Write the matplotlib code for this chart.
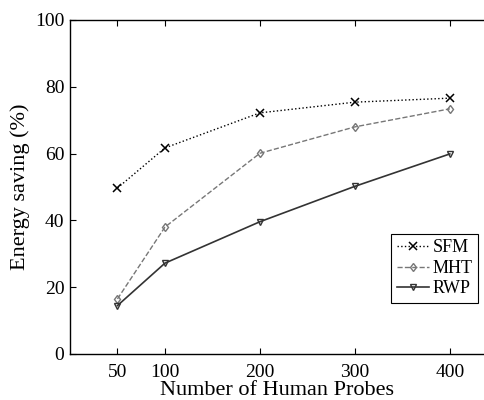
import matplotlib.pyplot as plt

plt.rcParams['font.family'] = ['Liberation Serif', 'DejaVu Serif']

# data
probes = [50, 100, 200, 300, 400]
sfm = [49.7, 61.7, 72.2, 75.4, 76.6]
mht = [16.5, 38.0, 60.1, 68.0, 73.4]
rwp = [14.5, 27.2, 39.6, 50.2, 59.9]

fig = plt.figure(figsize=(4.84, 4.0), dpi=100)
ax = fig.add_axes([70 / 484, 46 / 400, 414 / 484, 334 / 400])

ax.plot(probes, sfm, color='black', linestyle=':', linewidth=1.0,
        marker='x', markersize=6, markeredgewidth=1.1, label='SFM')
ax.plot(probes, mht, color='#777777', linestyle='--', linewidth=1.0,
        marker='d', markersize=4.5, markerfacecolor='none',
        markeredgecolor='#777777', label='MHT')
ax.plot(probes, rwp, color='#333333', linestyle='-', linewidth=1.2,
        marker='v', markersize=5, markerfacecolor='none',
        markeredgecolor='#333333', label='RWP')

ax.set_xlim(0, 436)
ax.set_ylim(0, 100)
ax.set_xticks(probes)
ax.set_yticks([0, 20, 40, 60, 80, 100])
ax.tick_params(direction='in', length=4, labelsize=14, top=True, right=False, pad=4)
ax.tick_params(axis='x', pad=7)
ax.spines['right'].set_visible(False)
for s in ax.spines.values():
    s.set_linewidth(1.0)

ax.set_xlabel('Number of Human Probes', fontsize=16, labelpad=0)
ax.set_ylabel('Energy saving (%)', fontsize=16, labelpad=4)

leg = ax.legend(loc='lower right', bbox_to_anchor=(0.986, 0.153),
                borderaxespad=0, fontsize=13, fancybox=False, framealpha=1,
                edgecolor='black', handlelength=1.8, handletextpad=0.2,
                labelspacing=0.2, borderpad=0.3)
leg.get_frame().set_linewidth(0.8)

plt.savefig('out.png', dpi=100)
plt.close()
